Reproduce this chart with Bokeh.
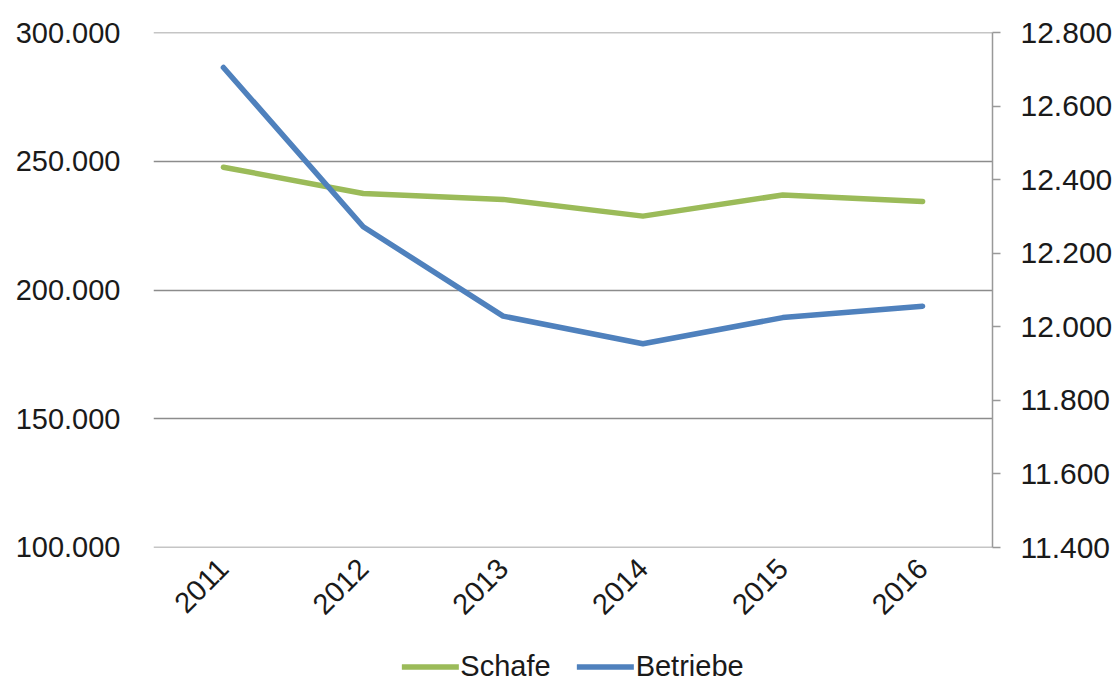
import math
from bokeh.plotting import figure
from bokeh.layouts import column
from bokeh.models import (Range1d, FactorRange, LinearAxis, FixedTicker, CustomJSTickFormatter,
                          Legend, LegendItem)
from bokeh.embed import file_html
from bokeh.resources import INLINE

years = ["2011", "2012", "2013", "2014", "2015", "2016"]
schafe = [247700, 237500, 235200, 228700, 236900, 234400]
betriebe = [12705, 12272, 12029, 11954, 12025, 12056]
left_ticks = [100000, 150000, 200000, 250000, 300000]
right_ticks = [11400, 11600, 11800, 12000, 12200, 12400, 12600, 12800]
series_names = ["Schafe", "Betriebe"]

FONT = "Liberation Sans"
FS = "29px"
TXT = "#1a1a1a"
GREEN = "#9BBB59"
BLUE = "#4F81BD"

fmt = CustomJSTickFormatter(code="""
return Math.round(tick).toString().replace(/\\B(?=(\\d{3})+(?!\\d))/g, '.');
""")

p = figure(width=1120, height=648, x_range=FactorRange(*years),
           y_range=Range1d(left_ticks[0] - 20, left_ticks[-1] + 20), output_backend="svg",
           toolbar_location=None, min_border_left=153, min_border_right=128,
           min_border_top=32, min_border_bottom=101)
p.outline_line_color = None
p.background_fill_color = "white"
p.border_fill_color = "white"

p.extra_y_ranges = {"right": Range1d(right_ticks[0], right_ticks[-1])}

# left axis
ya = p.yaxis[0]
ya.ticker = FixedTicker(ticks=left_ticks)
ya.formatter = fmt
ya.axis_line_color = None
ya.major_tick_line_color = None
ya.minor_tick_line_color = None
ya.major_label_text_font = FONT
ya.major_label_text_font_size = FS
ya.major_label_text_color = TXT
ya.major_label_standoff = 27

# x axis
xa = p.xaxis[0]
xa.axis_line_color = None
xa.major_tick_line_color = None
xa.minor_tick_line_color = None
xa.major_tick_in = 0
xa.major_tick_out = 0
xa.major_label_orientation = math.pi / 4
xa.major_label_text_font = FONT
xa.major_label_text_font_size = FS
xa.major_label_text_color = TXT
xa.major_label_standoff = 16

# right axis
ra = LinearAxis(y_range_name="right", ticker=FixedTicker(ticks=right_ticks), formatter=fmt)
ra.axis_line_color = "#999999"
ra.axis_line_width = 1.5
ra.major_tick_line_color = "#999999"
ra.major_tick_line_width = 1.5
ra.major_tick_in = 0
ra.major_tick_out = 8
ra.minor_tick_line_color = None
ra.major_label_text_font = FONT
ra.major_label_text_font_size = "30px"
ra.major_label_text_color = TXT
ra.major_label_standoff = 20
p.add_layout(ra, "right")

p.xgrid.grid_line_color = None
p.ygrid.grid_line_color = "#8c8c8c"
p.ygrid.grid_line_width = 1.5
p.ygrid.ticker = FixedTicker(ticks=left_ticks)

p.line(years, schafe, line_color=GREEN, line_width=5.5, line_cap="round", line_join="round")
p.line(years, betriebe, line_color=BLUE, line_width=5.5, line_cap="round", line_join="round",
       y_range_name="right")

# legend strip below the chart (series drawn out of view, only used for legend samples)
q = figure(width=1120, height=36, x_range=FactorRange(*years), y_range=Range1d(0, 1),
           output_backend="svg", toolbar_location=None, min_border=0)
q.axis.visible = False
q.grid.visible = False
q.outline_line_color = None
q.border_fill_color = "white"
lg1 = q.line(years, schafe, line_color=GREEN, line_width=5.5, line_cap="round")
lg2 = q.line(years, betriebe, line_color=BLUE, line_width=5.5, line_cap="round")

legend = Legend(items=[LegendItem(label=series_names[0], renderers=[lg1]),
                       LegendItem(label=series_names[1], renderers=[lg2])],
                orientation="horizontal", location="center")
legend.label_text_font = FONT
legend.label_text_font_size = FS
legend.label_text_color = TXT
legend.label_height = 20
legend.glyph_width = 57
legend.glyph_height = 20
legend.label_standoff = 2
legend.spacing = 26
legend.border_line_color = None
legend.background_fill_alpha = 0
legend.padding = 0
legend.margin = 0
q.add_layout(legend, "center")

open("out.html", "w").write(file_html(column(p, q, spacing=0), INLINE))
